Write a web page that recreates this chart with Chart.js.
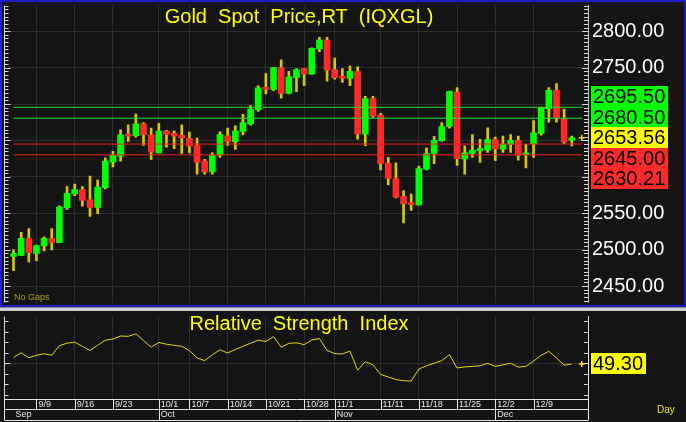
<!DOCTYPE html>
<html><head><meta charset="utf-8">
<script src="https://cdn.jsdelivr.net/npm/chart.js@4.4.1/dist/chart.umd.min.js"></script>
<style>
html,body{margin:0;padding:0;background:#141414;width:686px;height:422px;overflow:hidden;position:relative}
canvas{display:block;position:absolute;left:0}
#c1{top:0}
#c2{top:311px}
#frame{position:absolute;left:0;top:0;width:686px;height:307px;border:2px solid #1c1cc8;box-sizing:border-box;pointer-events:none}
#sep{position:absolute;left:0;top:307px;width:686px;height:4px;background:#cfcfcf;border-top:1px solid #8a8a8a;box-sizing:border-box}
</style></head><body>
<canvas id="c1" width="686" height="308"></canvas>
<div id="frame"></div>
<div id="sep"></div>
<canvas id="c2" width="686" height="111"></canvas>
<script>
// ---------------- data ----------------
const categories = ['9/4','9/5','9/6','9/9','9/10','9/11','9/12','9/13','9/16','9/17','9/18','9/19','9/20','9/23','9/24','9/25','9/26','9/27','9/30',
 '10/1','10/2','10/3','10/4','10/7','10/8','10/9','10/10','10/11','10/14','10/15','10/16','10/17','10/18','10/21','10/22','10/23','10/24','10/25','10/28','10/29','10/30','10/31',
 '11/1','11/4','11/5','11/6','11/7','11/8','11/11','11/12','11/13','11/14','11/15','11/18','11/19','11/20','11/21','11/22','11/25','11/26','11/27','11/28','11/29',
 '12/2','12/3','12/4','12/5','12/6','12/9','12/10','12/11','12/12','12/13','12/16'];
const opens  = [2490.7,2492.1,2515.6,2494.8,2505.2,2515.6,2509.7,2557.6,2576.5,2582.4,2568.4,2558.0,2585.1,2620.3,2628.5,2658.2,2656.4,2672.7,2657.8,
 2633.0,2662.8,2659.6,2656.9,2652.8,2642.9,2621.7,2606.8,2630.2,2656.4,2648.3,2662.3,2672.7,2692.1,2722.3,2720.1,2749.9,2714.7,2736.3,2748.5,2740.9,2775.6,2787.8,
 2747.2,2737.2,2735.2,2744.5,2658.7,2707.5,2684.9,2618.5,2597.8,2572.9,2563.9,2561.6,2610.4,2632.1,2649.7,2669.1,2716.0,2624.6,2632.1,2636.1,2636.6,
 2651.0,2637.9,2644.7,2650.1,2630.3,2645.6,2659.6,2693.5,2718.7,2679.9,2650.1];
const highs  = [2499.8,2523.7,2529.1,2506.5,2517.8,2529.1,2560.3,2586.5,2590.1,2586.5,2600.9,2595.5,2626.2,2635.2,2664.6,2671.3,2686.2,2674.5,2666.8,
 2673.6,2663.8,2663.2,2671.3,2661.4,2653.3,2623.9,2633.0,2661.9,2666.8,2670.0,2685.8,2698.0,2725.0,2741.7,2750.5,2760.7,2744.9,2748.5,2749.0,2777.0,2791.4,2791.4,
 2763.0,2748.5,2752.0,2751.2,2710.6,2710.6,2687.2,2626.7,2619.4,2581.1,2576.5,2614.9,2639.8,2655.6,2674.5,2717.8,2722.4,2642.7,2658.2,2651.5,2667.3,
 2654.6,2656.0,2658.2,2656.0,2644.7,2677.2,2695.8,2722.4,2728.2,2693.0,2656.0];
const lows   = [2471.3,2492.0,2483.1,2484.9,2498.4,2499.8,2509.7,2555.3,2574.3,2559.8,2545.8,2549.5,2583.3,2613.6,2621.7,2648.8,2654.6,2643.3,2623.9,
 2633.0,2640.6,2638.8,2632.1,2633.0,2603.6,2603.6,2603.6,2626.6,2643.3,2637.5,2657.8,2670.9,2689.8,2713.8,2718.3,2707.9,2714.0,2716.9,2725.0,2740.5,2772.0,2731.4,
 2734.1,2729.6,2725.0,2651.9,2642.9,2681.7,2609.5,2589.2,2571.0,2536.8,2554.0,2561.0,2609.5,2618.1,2648.8,2666.8,2615.8,2603.8,2626.6,2619.9,2633.4,
 2622.1,2633.4,2633.4,2623.0,2612.2,2626.6,2657.3,2675.0,2675.0,2645.6,2642.4];
const closes = [2494.8,2515.6,2496.1,2505.6,2515.6,2510.1,2558.5,2577.4,2582.4,2567.5,2558.0,2586.0,2621.7,2629.4,2657.8,2656.0,2672.7,2657.8,2633.9,
 2662.8,2658.2,2656.0,2653.3,2642.0,2620.3,2606.8,2629.3,2658.2,2648.3,2662.8,2674.4,2693.0,2722.3,2720.1,2749.9,2714.7,2737.2,2747.2,2741.3,2776.5,2787.8,2746.3,
 2736.3,2735.4,2744.7,2658.7,2707.5,2683.5,2618.5,2597.8,2572.0,2563.0,2562.1,2611.3,2632.1,2650.1,2669.1,2717.4,2624.9,2633.0,2636.6,2638.4,2651.0,
 2638.4,2644.7,2650.1,2629.8,2633.0,2660.5,2695.3,2718.7,2680.8,2647.9,2653.56];
const rsi = [55.5,60,55.2,57.5,59,57.6,66.7,69,70,66,62.2,67,71.8,73,75.8,75.5,77.9,71.5,65.2,69.7,
 68,67,66.1,62,55,52.5,58,62.7,59.7,63,66,69,71.8,70.6,75.2,65.2,68.8,69.4,67.6,72,
 73.4,62.2,59.1,58.8,61.5,43.4,51.5,48.5,39.4,37,34.5,33.5,33.1,44.5,47.6,50,52.5,58.2,45.5,46.5,
 47,47.6,50,47,48.5,50,46.4,47,52,57.5,61.3,55,48.2,49.3];
const levelsGreen = [2695.50, 2680.50];
const levelsRed = [2645.00, 2630.21];
const lastPrice = 2653.56;
const lastRsi = 49.30;
const rsiMid = 50;
const priceTicks = [2450, 2500, 2550, 2600, 2650, 2700, 2750, 2800];
const dateTicks = ['9/9','9/16','9/23','10/1','10/7','10/14','10/21','10/28','11/1','11/11','11/18','11/25','12/2','12/9'];
const months = ['Sep','Oct','Nov','Dec'];
const monthStarts = ['9/4','10/1','11/1','12/2'];
const titleTop = 'Gold  Spot  Price,RT  (IQXGL)';
const titleRsi = 'Relative  Strength  Index';

// ---------------- style ----------------
const FONT = "'Liberation Sans', Arial, sans-serif";
const SMALL = "'Liberation Sans Narrow', 'Liberation Sans', Arial, sans-serif";
const GRID = '#2e2e2e';
const UP = '#00ff00', DOWN = '#ff2b2b', WICK = '#d8c800';
const xMin = -0.46, xMax = categories.length + 1.12;
const markerX = categories.length + 0.3;

function minorTicks(ctx, a, ys, step, major) {
  ctx.strokeStyle = '#d8d8d8'; ctx.lineWidth = 1; ctx.beginPath();
  const lx = a.left - 5.5;
  ctx.moveTo(lx, a.top); ctx.lineTo(lx, a.bottom);
  for (let v = Math.ceil(ys.min / step) * step; v <= ys.max; v += step) {
    const y = Math.round(ys.getPixelForValue(v)) + 0.5;
    const len = (Math.abs(v % major) < 1e-6) ? 6 : 4;
    ctx.moveTo(lx, y); ctx.lineTo(lx + len, y);
    ctx.moveTo(a.right, y); ctx.lineTo(a.right - len, y);
  }
  ctx.stroke();
}

function valueBox(ctx, x, yc, text, bg, h) {
  ctx.font = '20px ' + FONT;
  const w = Math.round(ctx.measureText(text).width + 5);
  ctx.fillStyle = bg; ctx.fillRect(x, Math.round(yc - h / 2), w, h);
  ctx.fillStyle = '#000'; ctx.textAlign = 'left'; ctx.textBaseline = 'middle';
  ctx.fillText(text, x + 2, yc + 1);
}

const topDeco = {
  id: 'topDeco',
  afterDraw(chart) {
    const {ctx, chartArea: a, scales} = chart;
    const ys = scales.y;
    ctx.save();
    minorTicks(ctx, a, ys, 5, 50);
    ctx.fillStyle = '#ffff00'; ctx.font = '20px ' + FONT;
    ctx.textAlign = 'center'; ctx.textBaseline = 'alphabetic';
    ctx.fillText(titleTop, (a.left + a.right) / 2, 23);
    ctx.fillStyle = '#a8a000'; ctx.font = '9px ' + FONT; ctx.textAlign = 'left';
    ctx.fillText('No Gaps', a.left + 4, a.bottom - 3);
    const items = [];
    levelsGreen.forEach(v => items.push({v, bg: '#00ff00'}));
    levelsRed.forEach(v => items.push({v, bg: '#ff2b2b'}));
    items.push({v: lastPrice, bg: '#ffff00', anchor: true});
    items.sort((p, q) => q.v - p.v);
    const ai = items.findIndex(it => it.anchor);
    const h = 20.5, y0 = ys.getPixelForValue(lastPrice);
    items.forEach((it, i) => valueBox(ctx, a.right + 3, y0 + (i - ai) * h, it.v.toFixed(2), it.bg, 21));
    ctx.restore();
  }
};

new Chart(document.getElementById('c1'), {
  type: 'bar',
  data: {
    datasets: [
      {type: 'scatter', data: [{x: markerX, y: lastPrice}], pointStyle: 'cross', pointRadius: 3, borderColor: '#f0e000', borderWidth: 1.5, order: -1},
      ...levelsGreen.map(v => ({type: 'line', data: [{x: 0, y: v}, {x: markerX + 0.1, y: v}], borderColor: '#22e022', borderWidth: 1, pointRadius: 0, order: 0})),
      ...levelsRed.map(v => ({type: 'line', data: [{x: 0, y: v}, {x: markerX + 0.1, y: v}], borderColor: '#ee2020', borderWidth: 1, pointRadius: 0, order: 0})),
      {type: 'bar', data: categories.map((d, i) => ({x: i, y: [opens[i], closes[i]]})),
       backgroundColor: categories.map((d, i) => closes[i] >= opens[i] ? UP : DOWN),
       barThickness: 6, maxBarThickness: 6, minBarLength: 2, grouped: false, borderWidth: 0, order: 1},
      {type: 'bar', data: categories.map((d, i) => ({x: i, y: [lows[i], highs[i]]})),
       backgroundColor: WICK, barThickness: 2, maxBarThickness: 2, grouped: false, borderWidth: 0, order: 2}
    ]
  },
  options: {
    responsive: false, animation: false, events: [],
    layout: {padding: {left: 10, top: 4, right: 0, bottom: 3}},
    plugins: {legend: {display: false}, tooltip: {enabled: false}},
    scales: {
      x: {type: 'linear', min: xMin, max: xMax, offset: false,
          grid: {color: GRID, drawTicks: false, offset: false}, border: {display: false},
          ticks: {display: false},
          afterBuildTicks: s => { s.ticks = dateTicks.map(d => ({value: categories.indexOf(d)})); },
          afterFit: s => { s.height = 0; s.paddingLeft = 0; s.paddingRight = 0; }},
      y: {type: 'linear', position: 'right', min: 2427.53, max: 2835.22,
          grid: {color: GRID, drawTicks: false}, border: {display: true, color: '#c8c8c8'},
          ticks: {color: '#ffffff', font: {family: FONT, size: 20}, padding: 4, callback: v => Number(v).toFixed(2)},
          afterBuildTicks: s => { s.ticks = priceTicks.map(v => ({value: v})); },
          afterFit: s => { s.width = 98; s.paddingTop = 0; s.paddingBottom = 0; }}
    }
  },
  plugins: [topDeco]
});

const rsiDeco = {
  id: 'rsiDeco',
  afterDraw(chart) {
    const {ctx, chartArea: a, scales} = chart;
    const xs = scales.x, x2 = scales.x2, ys = scales.y;
    ctx.save();
    minorTicks(ctx, a, ys, 10, 50);
    ctx.fillStyle = '#ffff00'; ctx.font = '20px ' + FONT;
    ctx.textAlign = 'center'; ctx.textBaseline = 'alphabetic';
    ctx.fillText(titleRsi, (a.left + a.right) / 2, 19);
    valueBox(ctx, a.right + 3, ys.getPixelForValue(lastRsi), lastRsi.toFixed(2), '#ffff00', 21);
    // axis rows
    ctx.strokeStyle = '#e6e6e6'; ctx.lineWidth = 1; ctx.beginPath();
    const lx = a.left - 5.5, rx = a.right + 0.5;
    [xs.top, xs.bottom, x2.bottom].forEach(y => { const yy = Math.round(y) + 0.5; ctx.moveTo(lx, yy); ctx.lineTo(rx, yy); });
    ctx.moveTo(lx, a.bottom); ctx.lineTo(lx, x2.bottom);
    ctx.moveTo(rx, a.top); ctx.lineTo(rx, x2.bottom);
    xs.ticks.forEach(t => { const px = Math.round(xs.getPixelForValue(t.value)) + 0.5; ctx.moveTo(px, xs.top); ctx.lineTo(px, xs.bottom); });
    x2.ticks.forEach(t => { if (t.value <= 0) return; const px = Math.round(x2.getPixelForValue(t.value)) + 0.5; ctx.moveTo(px, xs.top); ctx.lineTo(px, x2.bottom); });
    ctx.stroke();
    ctx.fillStyle = '#e8e800'; ctx.font = '10px ' + FONT; ctx.textAlign = 'left'; ctx.textBaseline = 'middle';
    ctx.fillText('Day', 657, (xs.bottom + x2.bottom) / 2 - 4);
    ctx.restore();
  }
};

new Chart(document.getElementById('c2'), {
  type: 'line',
  data: {
    datasets: [
      {type: 'scatter', data: [{x: markerX, y: lastRsi}], pointStyle: 'cross', pointRadius: 3, borderColor: '#f0e000', borderWidth: 1.5, order: 0},
      {type: 'line', data: categories.map((d, i) => ({x: i, y: rsi[i]})), borderColor: '#e4dc00', borderWidth: 1, pointRadius: 0, tension: 0, order: 1}
    ]
  },
  options: {
    responsive: false, animation: false, events: [],
    layout: {padding: {left: 10, top: 2, right: 0, bottom: 2}},
    plugins: {legend: {display: false}, tooltip: {enabled: false}},
    scales: {
      x: {type: 'linear', position: 'bottom', weight: 0, min: xMin, max: xMax, offset: false,
          grid: {color: GRID, drawTicks: false, offset: false}, border: {display: false},
          ticks: {color: '#e8e8e8', font: {family: SMALL, size: 9}, align: 'start', padding: 0, labelOffset: 2,
                  autoSkip: false, maxRotation: 0, callback: (v, i) => dateTicks[i]},
          afterBuildTicks: s => { s.ticks = dateTicks.map(d => ({value: categories.indexOf(d)})); },
          afterFit: s => { s.height = 10; s.paddingLeft = 0; s.paddingRight = 0; }},
      x2: {type: 'linear', axis: 'x', position: 'bottom', weight: 1, min: xMin, max: xMax, offset: false,
          grid: {drawOnChartArea: false, drawTicks: false, offset: false}, border: {display: false},
          ticks: {color: '#e8e8e8', font: {family: SMALL, size: 9}, align: 'start', padding: 0, labelOffset: 2,
                  autoSkip: false, maxRotation: 0, callback: (v, i) => months[i]},
          afterBuildTicks: s => { s.ticks = monthStarts.map(d => ({value: categories.indexOf(d)})); },
          afterFit: s => { s.height = 11; s.paddingLeft = 0; s.paddingRight = 0; }},
      y: {type: 'linear', position: 'right', min: 16.1, max: 94.3,
          grid: {color: GRID, drawTicks: false}, border: {display: true, color: '#c8c8c8'},
          ticks: {display: false},
          afterBuildTicks: s => { s.ticks = [{value: rsiMid}]; },
          afterFit: s => { s.width = 98; s.paddingTop = 0; s.paddingBottom = 0; }}
    }
  },
  plugins: [rsiDeco]
});
</script>
</body></html>
